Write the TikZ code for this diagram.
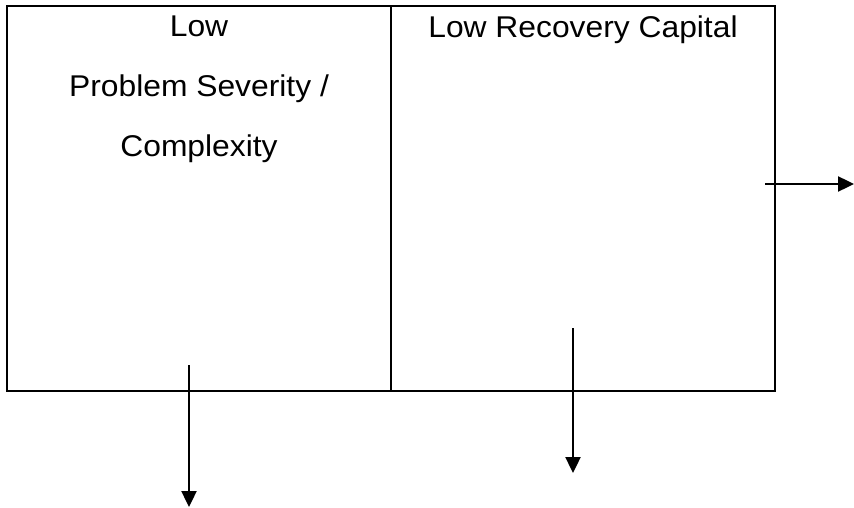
\documentclass[tikz,border=0pt]{standalone}
\usepackage{fontspec}
\setmainfont{Liberation Sans}
\usetikzlibrary{arrows.meta}

\begin{document}
\begin{tikzpicture}[x=1pt,y=-1pt,>={Triangle[length=16pt,width=15pt]},
  box/.style={draw,line width=2.6pt,inner sep=0pt,minimum width=384pt,minimum height=385pt},
  boxtext/.style={inner sep=0pt,align=center,anchor=north,xscale=1.06,transform shape,
    font=\fontsize{30}{59.7}\selectfont},
  arr/.style={line width=2.4pt,->}]
        \useasboundingbox (0,0) rectangle (854,508);
        % the two boxes
        \node[box] (lowsev) at (199,198.5) {};
        \node[box] (lowcap) at (583,198.5) {};
        \node[boxtext] (sevtext) at (199,16) {Low\\Problem Severity /\\Complexity};
        \node[boxtext] (captext) at (583,16) {Low Recovery Capital};

        % arrows
        \coordinate (sevstart) at (189,365);
        \coordinate (sevend) at (189,507);
        \coordinate (capstart) at (573,328);
        \coordinate (capend) at (573,473);
        \coordinate (sidestart) at (765,184);
        \coordinate (sideend) at (854,184);
        \draw[arr] (sevstart) -- (sevend);
        \draw[arr] (capstart) -- (capend);
        \draw[arr] (sidestart) -- (sideend);
\end{tikzpicture}
\end{document}
